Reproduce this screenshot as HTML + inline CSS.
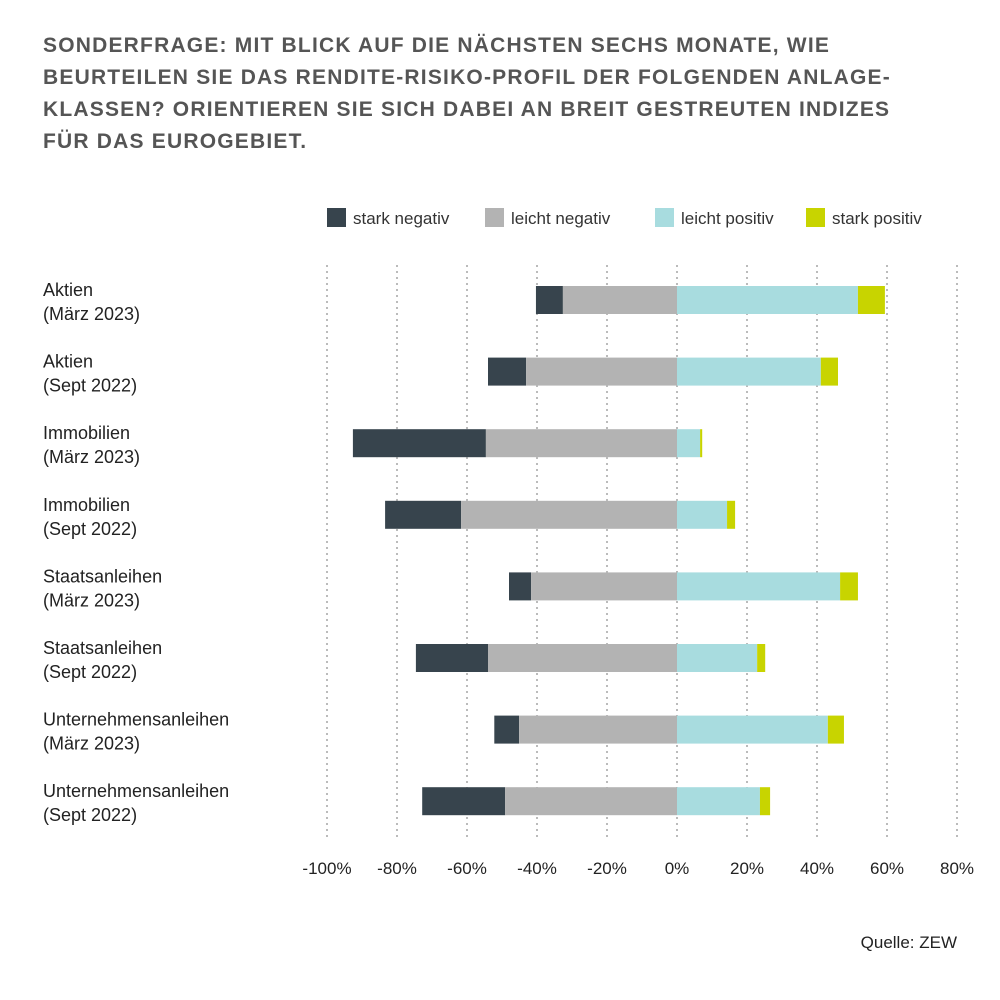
<!DOCTYPE html>
<html><head><meta charset="utf-8"><style>
body{margin:0;background:#fff;width:1000px;height:1000px;overflow:hidden;font-family:"Liberation Sans",sans-serif}
svg{display:block}
</style></head><body>
<svg width="1000" height="1000">
<g fill="#555" font-size="21" font-weight="bold" letter-spacing="1.2">
<text x="43" y="52">SONDERFRAGE: MIT BLICK AUF DIE NÄCHSTEN SECHS MONATE, WIE</text>
<text x="43" y="84">BEURTEILEN SIE DAS RENDITE-RISIKO-PROFIL DER FOLGENDEN ANLAGE-</text>
<text x="43" y="116">KLASSEN? ORIENTIEREN SIE SICH DABEI AN BREIT GESTREUTEN INDIZES</text>
<text x="43" y="148">FÜR DAS EUROGEBIET.</text>
</g>
<g id="legend" font-size="17" fill="#333"></g>
<g id="grid"></g>
<g id="bars"></g>
<g id="labels" font-size="18" fill="#222"></g>
<g id="ticks" font-size="17" fill="#222" text-anchor="middle"></g>
<text x="957" y="948" text-anchor="end" font-size="17" fill="#222">Quelle: ZEW</text>
</svg>
<script>
const categories=[["Aktien","(März 2023)"],["Aktien","(Sept 2022)"],["Immobilien","(März 2023)"],["Immobilien","(Sept 2022)"],["Staatsanleihen","(März 2023)"],["Staatsanleihen","(Sept 2022)"],["Unternehmensanleihen","(März 2023)"],["Unternehmensanleihen","(Sept 2022)"]];
const starkNegativ=[7.7,10.9,38,21.7,6.3,20.6,7.1,23.7];
const leichtNegativ=[32.6,43.1,54.6,61.7,41.7,54,45.1,49.1];
const leichtPositiv=[51.7,41.1,6.6,14.3,46.6,22.9,43.1,23.7];
const starkPositiv=[7.7,4.9,0.6,2.3,5.1,2.3,4.6,2.9];
const tickValues=[-100,-80,-60,-40,-20,0,20,40,60,80];
const seriesNames=["stark negativ","leicht negativ","leicht positiv","stark positiv"];
const colors=["#37444d","#b3b3b3","#a8dcdf","#c8d400"];
const NS="http://www.w3.org/2000/svg";
const x=v=>677+v*3.5;
const y=i=>300+i*71.6;
const BH=28;
function mk(t,a,p){const e=document.createElementNS(NS,t);for(const k in a)e.setAttribute(k,a[k]);p.appendChild(e);return e;}
const grid=document.getElementById('grid'),ticks=document.getElementById('ticks');
tickValues.forEach(v=>{
 const l=mk('line',{x1:x(v),x2:x(v),y1:265,y2:840,stroke:'#bbb','stroke-width':2,'stroke-dasharray':'2,4'},grid);
 
 
 const t=mk('text',{x:x(v),y:874},ticks);t.textContent=v+'%';
 
 
});
const bars=document.getElementById('bars'),labels=document.getElementById('labels');
categories.forEach((c,i)=>{
 const cy=y(i);
 const segs=[[-(starkNegativ[i]+leichtNegativ[i]),starkNegativ[i],0],[-leichtNegativ[i],leichtNegativ[i],1],[0,leichtPositiv[i],2],[leichtPositiv[i],starkPositiv[i],3]];
 segs.forEach(s=>{
  const r=mk('rect',{x:x(s[0]),y:cy-BH/2,width:s[1]*3.5,height:BH,fill:colors[s[2]]},bars);
  
  
 });
 const t1=mk('text',{x:43,y:cy-4},labels);t1.textContent=c[0];
 
 
 const t2=mk('text',{x:43,y:cy+20},labels);t2.textContent=c[1];
 
 
});
const legend=document.getElementById('legend');
const lx=[327,485,655,806];
seriesNames.forEach((n,i)=>{
 const r=mk('rect',{x:lx[i],y:208,width:19,height:19,fill:colors[i]},legend);
 
 
 const t=mk('text',{x:lx[i]+26,y:224},legend);t.textContent=n;
 
 
});
</script>
</body></html>
